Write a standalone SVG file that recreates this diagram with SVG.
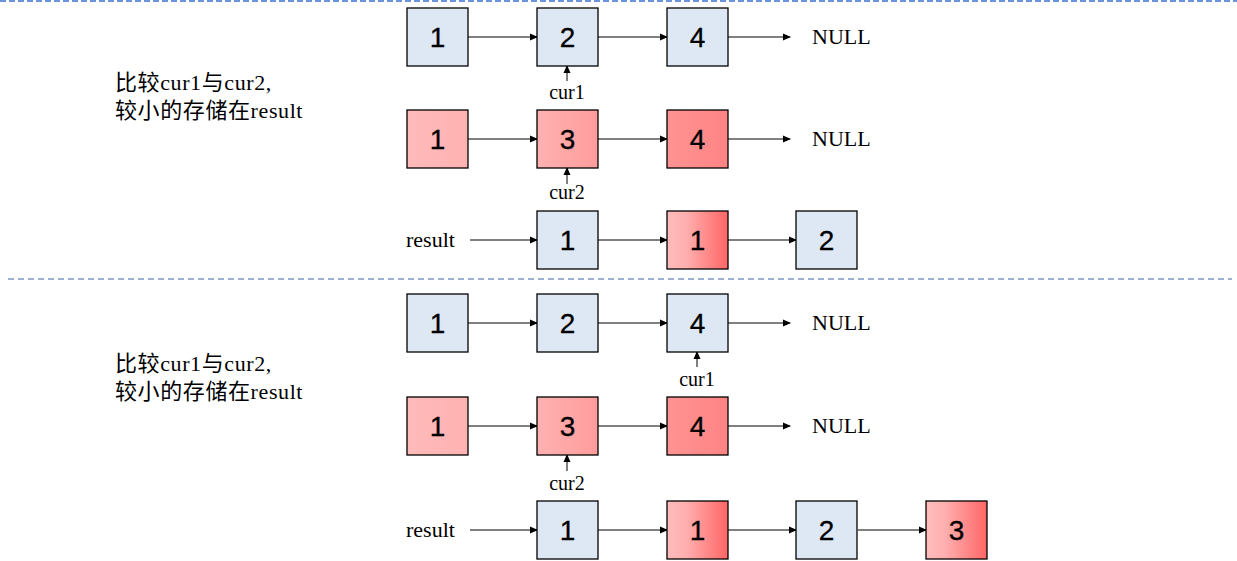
<svg xmlns="http://www.w3.org/2000/svg" width="1237" height="561" viewBox="0 0 1237 561">
<style>
.b{fill:#dee8f4;stroke:#000;stroke-width:1.3}
.r{stroke:#000;stroke-width:1.3}
.n{font-family:"Liberation Sans",Arial,sans-serif;font-size:28px;text-anchor:middle;fill:#000;stroke:#000;stroke-width:0.3}
.t{font-family:"Liberation Serif","Noto Sans CJK SC",serif;font-size:22px;fill:#000}
.cap{letter-spacing:0.6px}
.c{font-family:"Liberation Serif",serif;font-size:20px;fill:#000;text-anchor:middle}
.l{stroke:#000;stroke-width:1;fill:none;marker-end:url(#ah)}
</style>
<defs>
<marker id="ah" markerWidth="8" markerHeight="8" refX="7" refY="4" orient="auto" markerUnits="userSpaceOnUse">
<path d="M0,0.5 L8,4 L0,7.5 Z" fill="#000"/>
</marker>
<linearGradient id="g1" x1="0" x2="1"><stop offset="0" stop-color="#ffbaba"/><stop offset="1" stop-color="#ffb2b2"/></linearGradient>
<linearGradient id="g3" x1="0" x2="1"><stop offset="0" stop-color="#ffb1b1"/><stop offset="1" stop-color="#ff9c9c"/></linearGradient>
<linearGradient id="g4" x1="0" x2="1"><stop offset="0" stop-color="#ff9393"/><stop offset="1" stop-color="#ff8484"/></linearGradient>
<linearGradient id="gr" x1="0" x2="1"><stop offset="0" stop-color="#ffbcbc"/><stop offset="0.3" stop-color="#ffb0b0"/><stop offset="1" stop-color="#ff6666"/></linearGradient>
</defs>
<line x1="0" y1="1" x2="1237" y2="1" stroke="#3f6fd0" stroke-width="1.6" stroke-dasharray="6,3"/>
<line x1="8" y1="279" x2="1232" y2="279" stroke="#3e63a6" stroke-width="1" stroke-dasharray="6,4"/>

<g id="caption1"><text class="t cap" x="115" y="90">比较cur1与cur2,</text><text class="t cap" x="115" y="118">较小的存储在result</text></g>
<g id="caption2"><text class="t cap" x="115" y="371">比较cur1与cur2,</text><text class="t cap" x="115" y="399">较小的存储在result</text></g>

<g id="connectors">
<line class="l" x1="468" y1="37" x2="537" y2="37"/>
<line class="l" x1="598" y1="37" x2="667" y2="37"/>
<line class="l" x1="728" y1="37" x2="790" y2="37"/>
<line class="l" x1="567" y1="81" x2="567" y2="66"/>
<line class="l" x1="468" y1="139" x2="537" y2="139"/>
<line class="l" x1="598" y1="139" x2="667" y2="139"/>
<line class="l" x1="728" y1="139" x2="790" y2="139"/>
<line class="l" x1="567" y1="184" x2="567" y2="168"/>
<line class="l" x1="470" y1="240" x2="537" y2="240"/>
<line class="l" x1="598" y1="240" x2="667" y2="240"/>
<line class="l" x1="728" y1="240" x2="796" y2="240"/>
<line class="l" x1="468" y1="323" x2="537" y2="323"/>
<line class="l" x1="598" y1="323" x2="667" y2="323"/>
<line class="l" x1="728" y1="323" x2="790" y2="323"/>
<line class="l" x1="697" y1="367" x2="697" y2="352"/>
<line class="l" x1="468" y1="426" x2="537" y2="426"/>
<line class="l" x1="598" y1="426" x2="667" y2="426"/>
<line class="l" x1="728" y1="426" x2="790" y2="426"/>
<line class="l" x1="567" y1="471" x2="567" y2="455"/>
<line class="l" x1="470" y1="530" x2="537" y2="530"/>
<line class="l" x1="598" y1="530" x2="667" y2="530"/>
<line class="l" x1="728" y1="530" x2="796" y2="530"/>
<line class="l" x1="858" y1="530" x2="926" y2="530"/>
</g>

<g id="a1"><rect class="b" x="407" y="8" width="61" height="58"/><text class="n" x="437.5" y="47">1</text></g>
<g id="a2"><rect class="b" x="537" y="8" width="61" height="58"/><text class="n" x="567.5" y="47">2</text></g>
<g id="a4"><rect class="b" x="667" y="8" width="61" height="58"/><text class="n" x="697.5" y="47">4</text></g>
<text class="t" x="812" y="44">NULL</text>
<text class="c" x="567" y="99">cur1</text>

<g id="b1"><rect class="r" fill="url(#g1)" x="407" y="110" width="61" height="58"/><text class="n" x="437.5" y="149">1</text></g>
<g id="b3"><rect class="r" fill="url(#g3)" x="537" y="110" width="61" height="58"/><text class="n" x="567.5" y="149">3</text></g>
<g id="b4"><rect class="r" fill="url(#g4)" x="667" y="110" width="61" height="58"/><text class="n" x="697.5" y="149">4</text></g>
<text class="t" x="812" y="146">NULL</text>
<text class="c" x="567" y="199">cur2</text>

<text class="t" x="406" y="247">result</text>
<g id="r1"><rect class="b" x="537" y="211" width="61" height="58"/><text class="n" x="567.5" y="250">1</text></g>
<g id="r2"><rect class="r" fill="url(#gr)" x="667" y="211" width="61" height="58"/><text class="n" x="697.5" y="250">1</text></g>
<g id="r3"><rect class="b" x="796" y="211" width="61" height="58"/><text class="n" x="826.5" y="250">2</text></g>

<g id="c1"><rect class="b" x="407" y="294" width="61" height="58"/><text class="n" x="437.5" y="333">1</text></g>
<g id="c2"><rect class="b" x="537" y="294" width="61" height="58"/><text class="n" x="567.5" y="333">2</text></g>
<g id="c4"><rect class="b" x="667" y="294" width="61" height="58"/><text class="n" x="697.5" y="333">4</text></g>
<text class="t" x="812" y="330">NULL</text>
<text class="c" x="697" y="386">cur1</text>

<g id="d1"><rect class="r" fill="url(#g1)" x="407" y="397" width="61" height="58"/><text class="n" x="437.5" y="436">1</text></g>
<g id="d3"><rect class="r" fill="url(#g3)" x="537" y="397" width="61" height="58"/><text class="n" x="567.5" y="436">3</text></g>
<g id="d4"><rect class="r" fill="url(#g4)" x="667" y="397" width="61" height="58"/><text class="n" x="697.5" y="436">4</text></g>
<text class="t" x="812" y="433">NULL</text>
<text class="c" x="567" y="490">cur2</text>

<text class="t" x="406" y="537">result</text>
<g id="e1"><rect class="b" x="537" y="501" width="61" height="58"/><text class="n" x="567.5" y="540">1</text></g>
<g id="e2"><rect class="r" fill="url(#gr)" x="667" y="501" width="61" height="58"/><text class="n" x="697.5" y="540">1</text></g>
<g id="e3"><rect class="b" x="796" y="501" width="61" height="58"/><text class="n" x="826.5" y="540">2</text></g>
<g id="e4"><rect class="r" fill="url(#gr)" x="926" y="501" width="61" height="58"/><text class="n" x="956.5" y="540">3</text></g>
</svg>
